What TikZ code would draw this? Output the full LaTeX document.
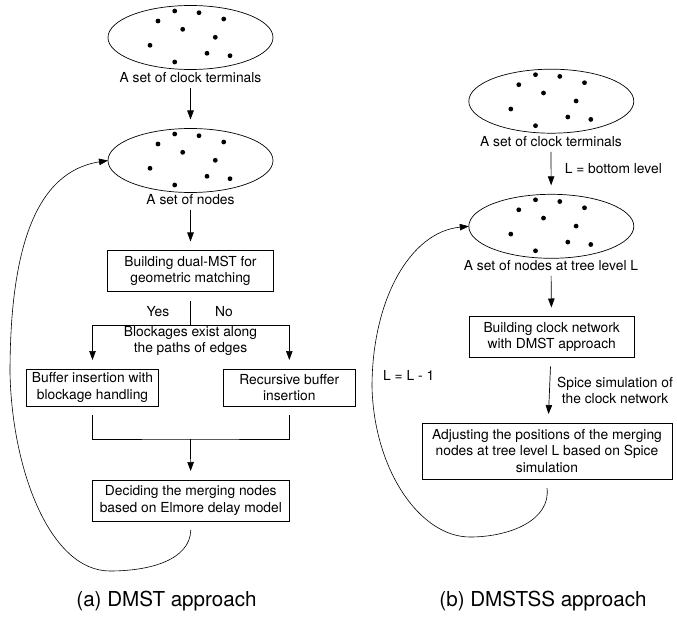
\documentclass[tikz,border=0pt]{standalone}
\usepackage{fontspec}
\setmainfont{TeX Gyre Heros}
\usepackage{tikz}
\usetikzlibrary{arrows.meta, positioning, calc, shapes.geometric}

\newcommand{\sinkdots}[1]{%
	\foreach \dx/\dy in {-15.8/-26.5, 8.5/-24.8, 33.2/-18.5, -32.5/-16.5, -7.8/-8.2, 24.8/-0.2, -40.5/7.8, 16.5/15.8, 39.5/18.2, -15.8/24.5}
	\fill ($(#1)+(\dx,\dy)$) circle (2.4pt);}

\begin{document}
\begin{tikzpicture}[
	x=1pt, y=-1pt,
	font=\fontsize{13.8}{16.5}\selectfont,
	pset/.style={ellipse, draw, line width=0.7pt, minimum width=165pt, minimum height=64pt, outer sep=9pt},
	proc/.style={rectangle, draw, line width=0.7pt, align=center, inner sep=2pt, outer sep=9pt},
	lbl/.style={inner sep=2pt, text height=10pt, text depth=3pt},
	note/.style={inner sep=2pt, align=center},
	flow/.style={-{Triangle[length=9pt, width=6.5pt]}, line width=0.7pt},
	link/.style={line width=0.7pt},
	back/.style={-{Triangle[length=9pt, width=6.5pt]}, line width=0.6pt},
	caption/.style={font=\fontsize{20.6}{24}\selectfont},
	]
	\useasboundingbox (0,0) rectangle (677,620);
	
	% ---- DMST approach (left) ----
	\node[pset] (ter1) at (190.5,37.5) {};
	\sinkdots{ter1}
	\node[lbl] (terlbl1) at (190.5,79) {A set of clock terminals};
	\node[pset] (set1) at (190.5,160.5) {};
	\sinkdots{set1}
	\node[lbl] (setlbl1) at (190.5,201) {A set of nodes};
	\node[proc, minimum width=166pt, minimum height=41pt] (mst) at (190.5,271) {Building dual-MST for\\geometric matching};
	\coordinate (split) at (190.5,325);
	\node[note] (yes) at (158,312) {Yes};
	\node[note] (no) at (224,312) {No};
	\node[note] (block) at (190.5,341) {Blockages exist along\\the paths of edges};
	\node[proc, minimum width=132pt, minimum height=37pt] (buf) at (92.5,387.5) {Buffer insertion with\\blockage handling};
	\node[proc, minimum width=132pt, minimum height=37pt] (rec) at (289.3,387.5) {Recursive buffer\\insertion};
	\coordinate (join) at (190.5,439);
	\node[proc, minimum width=197pt, minimum height=41pt] (dec) at (190.8,500.5) {Deciding the merging nodes\\based on Elmore delay model};
	
	\draw[flow] (terlbl1) -- (set1);
	\draw[flow] (setlbl1) -- (mst);
	\draw[link] (mst) -- (split);
	\draw[flow] (split) -| (buf);
	\draw[flow] (split) -| (rec);
	\draw[link] (buf) |- (join) -| (rec);
	\draw[flow] (join) -- (dec);
	\draw[back] (dec.south) .. controls (190,560) and (150,571) .. (110,571)
		.. controls (50,571) and (12,470) .. (10,373)
		.. controls (10,250) and (35,172) .. ([xshift=9pt]set1.west);
	\node[caption] (capa) at (166.5,601) {(a) DMST approach};
	
	% ---- DMSTSS approach (right) ----
	\node[pset] (ter2) at (551.3,101.2) {};
	\sinkdots{ter2}
	\node[lbl] (terlbl2) at (551,143.3) {A set of clock terminals};
	\node[pset] (set2) at (551.3,226.3) {};
	\sinkdots{set2}
	\node[lbl] (setlbl2) at (551,267.3) {A set of nodes at tree level L};
	\node[proc, minimum width=165pt, minimum height=41pt] (clk) at (551.7,337) {Building clock network\\with DMST approach};
	\node[proc, minimum width=250pt, minimum height=56pt] (adj) at (547,451) {Adjusting the positions of the merging\\nodes at tree level L based on Spice\\simulation};
	
	\draw[flow] (terlbl2) -- (set2) node[midway, right=10pt] {L = bottom level};
	\draw[flow] (setlbl2) -- (clk);
	\draw[flow] (clk) -- (adj) node[midway, right=4pt, align=center] {Spice simulation of\\the clock network};
	\draw[back] (adj.south) .. controls (551,520) and (510,537) .. (470,537)
		.. controls (420,537) and (374,470) .. (372,387)
		.. controls (372,300) and (410,232) .. ([xshift=9pt]set2.west);
	\node[note, anchor=west] (dec2) at (381,375) {L = L - 1};
	\node[caption] (capb) at (543,601) {(b) DMSTSS approach};
	
\end{tikzpicture}
\end{document}
